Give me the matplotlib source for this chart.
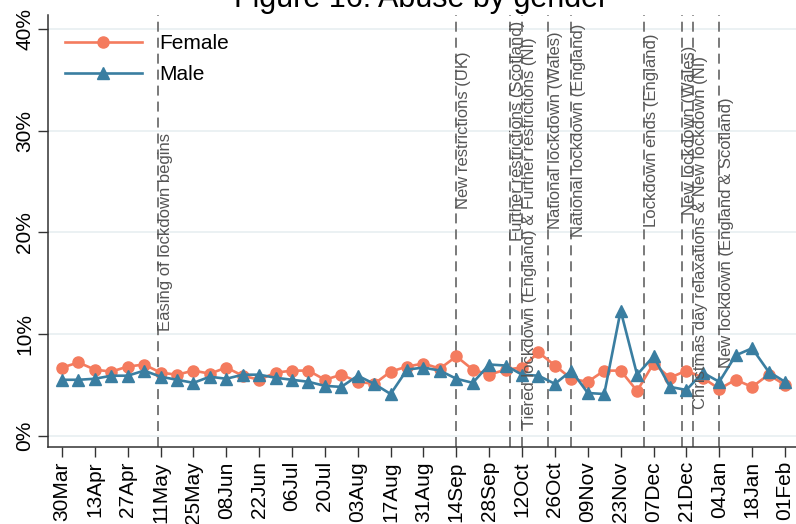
import matplotlib
matplotlib.use("Agg")
import matplotlib.pyplot as plt
import matplotlib.dates as mdates
import pandas as pd
import numpy as np

plt.rcParams['font.family'] = ['Liberation Sans', 'DejaVu Sans']
plt.rcParams['lines.scale_dashes'] = False

# weekly share of calls about abuse, by gender (%)
weeks = pd.date_range("2020-03-30", "2021-02-01", freq="7D")
female = [6.7, 7.2, 6.5, 6.3, 6.8, 7.0, 6.2, 6.0, 6.4, 6.1, 6.7, 5.9, 5.5, 6.2, 6.4,
          6.4, 5.5, 6.0, 5.3, 5.1, 6.3, 6.8, 7.1, 6.6, 7.8, 6.5, 6.0, 6.5, 6.7, 8.2,
          6.9, 5.6, 5.3, 6.4, 6.4, 4.4, 7.1, 5.7, 6.4, 5.7, 4.6, 5.5, 4.8, 6.0, 5.0]
male = [5.5, 5.5, 5.6, 5.9, 5.9, 6.4, 5.8, 5.5, 5.2, 5.8, 5.6, 6.0, 6.0, 5.7, 5.5,
        5.3, 4.9, 4.8, 5.9, 5.1, 4.1, 6.5, 6.7, 6.4, 5.6, 5.2, 7.0, 6.9, 6.0, 5.9,
        5.1, 6.4, 4.2, 4.1, 12.3, 6.0, 7.8, 4.8, 4.5, 6.2, 5.3, 7.9, 8.6, 6.3, 5.3]

# policy events: date, label, vertical position of the label (%)
event_dates = ["2020-05-10", "2020-09-14", "2020-10-07", "2020-10-12", "2020-10-23",
               "2020-11-02", "2020-12-03", "2020-12-19", "2020-12-24", "2021-01-04"]
event_labels = ["Easing of lockdown begins",
                "New restrictions (UK)",
                "Further restrictions (Scotland)",
                "Tiered lockdown (England) & Further restrictions (NI)",
                "National lockdown (Wales)",
                "National lockdown (England)",
                "Lockdown ends (England)",
                "New lockdown (Wales)",
                "Christmas day relaxations & New lockdown (NI)",
                "New lockdown (England & Scotland)"]
event_y = [20, 30, 30, 20, 30, 30, 30, 30, 20, 20]

yticks = [0, 10, 20, 30, 40]

fig = plt.figure(figsize=(7.96, 5.24), dpi=100)
ax = fig.add_axes([48 / 796, (524 - 447.3) / 524, 1 - 48 / 796, (447.3 - 15) / 524])

start = pd.Timestamp("2020-03-30")
ax.set_xlim(start - pd.Timedelta(days=5.96), start + pd.Timedelta(days=312.7))
ax.set_ylim(-1.14, 41.37)

for y in yticks:
    ax.axhline(y, color='#e8eff1', lw=1.2, zorder=0)

for d in event_dates:
    ax.axvline(pd.Timestamp(d), color='#707070', lw=1.3, linestyle=(0, (7.2, 4.3)), zorder=1)

ax.plot(weeks, female, color='#f47b5e', lw=1.9, marker='o', ms=8, label='Female', zorder=3)
ax.plot(weeks, male, color='#3a7ea1', lw=1.9, marker='^', ms=8, label='Male', zorder=3)

for d, lab, y in zip(event_dates, event_labels, event_y):
    ax.text(pd.Timestamp(d), y, lab, rotation=90, ha='left', va='center',
            fontsize=12, color='#555555', zorder=4)

ax.set_xticks(weeks[::2])
ax.xaxis.set_major_formatter(mdates.DateFormatter('%d%b'))
ax.set_yticks(yticks)
ax.set_yticklabels([f"{v}%" for v in yticks], rotation=90, va='center')
ax.tick_params(axis='x', labelrotation=90, labelsize=15, length=7, width=1, color='#333333', pad=3)
ax.tick_params(axis='y', labelsize=15, length=7, width=1, color='#333333', pad=3)

for s in ['top', 'right']:
    ax.spines[s].set_visible(False)
for s in ['left', 'bottom']:
    ax.spines[s].set_color('#333333')
    ax.spines[s].set_linewidth(1.1)

ax.legend(loc='upper left', bbox_to_anchor=(0.003, 0.99), frameon=False, fontsize=15,
          handlelength=3.7, handletextpad=0.85, labelspacing=0.6, borderaxespad=0.3)

fig.text(421.5 / 796, 1 - 7 / 524, "Figure 16: Abuse by gender", ha='center', va='baseline',
         fontsize=22)

fig.savefig("out.png", dpi=100)
